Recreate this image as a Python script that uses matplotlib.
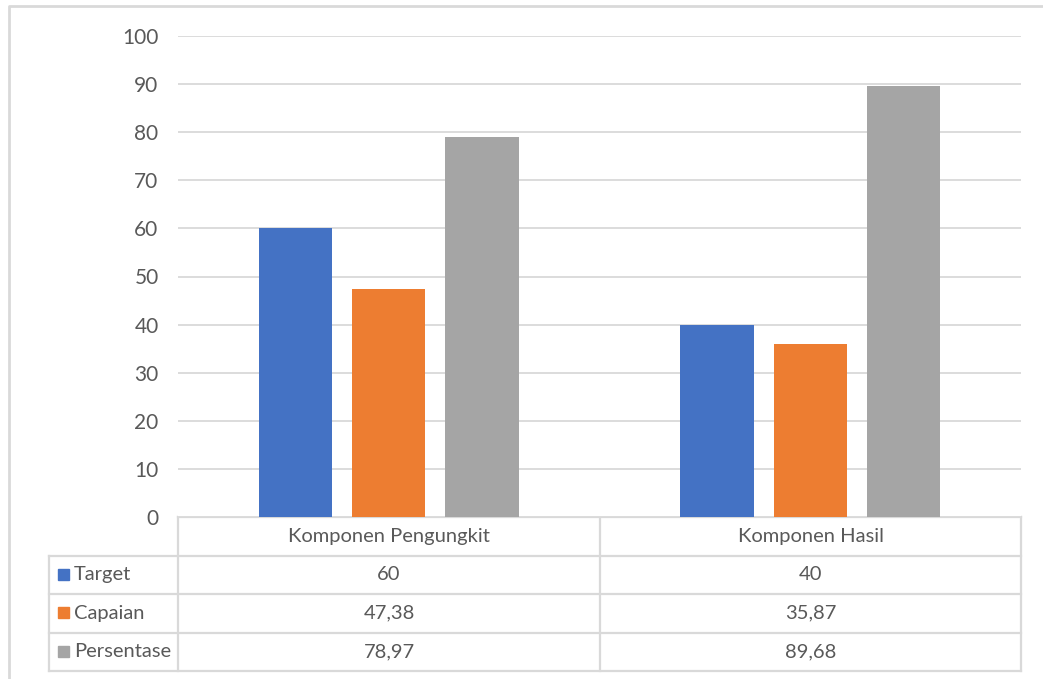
import matplotlib
matplotlib.use('Agg')
import matplotlib.pyplot as plt

# data
categories = ['Komponen Pengungkit', 'Komponen Hasil']
series_names = ['Target', 'Capaian', 'Persentase']
target = [60, 40]
capaian = [47.38, 35.87]
persentase = [78.97, 89.68]
y_ticks = [0, 10, 20, 30, 40, 50, 60, 70, 80, 90, 100]

colors = ['#4472C4', '#ED7D31', '#A5A5A5']
text_color = '#595959'
line_color = '#D9D9D9'

plt.rcParams['font.family'] = ['Lato', 'DejaVu Sans']

W, H = 1043, 679
fig = plt.figure(figsize=(W / 100, H / 100), dpi=100)
fig.set_facecolor('w')


def px(x0, y0, x1, y1):
    # pixel box (top-left origin) -> figure fraction rect
    return [x0 / W, 1 - y1 / H, (x1 - x0) / W, (y1 - y0) / H]


# overlay axes in pixel coords for frame and table
ov = fig.add_axes([0, 0, 1, 1])
ov.set_xlim(0, W)
ov.set_ylim(H, 0)
ov.axis('off')

# outer chart frame (cut off at right/bottom)
ov.plot([9, 9, W + 5], [H + 5, 6, 6], color=line_color, lw=2, solid_capstyle='butt')

# main plot area
left, right, top, bottom = 178, 1021, 36, 517
ax = fig.add_axes(px(left, top, right, bottom))
ax.set_xlim(0, len(categories))
ax.set_ylim(0, 100)
ax.set_yticks(y_ticks)
ax.yaxis.grid(True, color=line_color, lw=1.3)
ax.set_axisbelow(True)
for s in ax.spines.values():
    s.set_visible(False)
ax.tick_params(axis='y', length=0, pad=14, labelsize=15, labelcolor=text_color)
ax.set_xticks([])

bar_w = 0.174
step = 0.221
all_series = [target, capaian, persentase]
for i, (vals, c) in enumerate(zip(all_series, colors)):
    xs = [k + 0.5 + (i - 1) * step for k in range(len(categories))]
    ax.bar(xs, vals, width=bar_w, color=c, zorder=3)

# data table
row_h = 38.5
col_x = [49, left, 600, right]
header_top = bottom
row_tops = [bottom + row_h * (r + 1) for r in range(len(series_names))]
table_bottom = bottom + row_h * (len(series_names) + 1)

lw = 1.6
ov.plot([left, left], [header_top, table_bottom], color=line_color, lw=lw)
ov.plot([col_x[2], col_x[2]], [header_top, table_bottom], color=line_color, lw=lw)
ov.plot([right, right], [header_top, table_bottom], color=line_color, lw=lw)
ov.plot([left, right], [header_top, header_top], color=line_color, lw=lw)
ov.plot([col_x[0], col_x[0]], [row_tops[0], table_bottom], color=line_color, lw=lw)
for yy in row_tops + [table_bottom]:
    ov.plot([col_x[0], right], [yy, yy], color=line_color, lw=lw)

fs = 14.5
for k, cat in enumerate(categories):
    cx = (col_x[k + 1] + col_x[k + 2]) / 2
    ov.text(cx, header_top + row_h / 2, cat, ha='center', va='center',
            fontsize=fs, color=text_color)


def fmt(v):
    s = ('%g' % v)
    return s.replace('.', ',')


for r, (name, vals, c) in enumerate(zip(series_names, all_series, colors)):
    yc = row_tops[r] + row_h / 2
    ov.add_patch(plt.Rectangle((58, yc - 6), 11, 11, color=c))
    ov.text(74, yc, name, ha='left', va='center', fontsize=fs, color=text_color)
    for k, v in enumerate(vals):
        cx = (col_x[k + 1] + col_x[k + 2]) / 2
        ov.text(cx, yc, fmt(v), ha='center', va='center', fontsize=fs, color=text_color)

fig.savefig('out.png', dpi=100)
